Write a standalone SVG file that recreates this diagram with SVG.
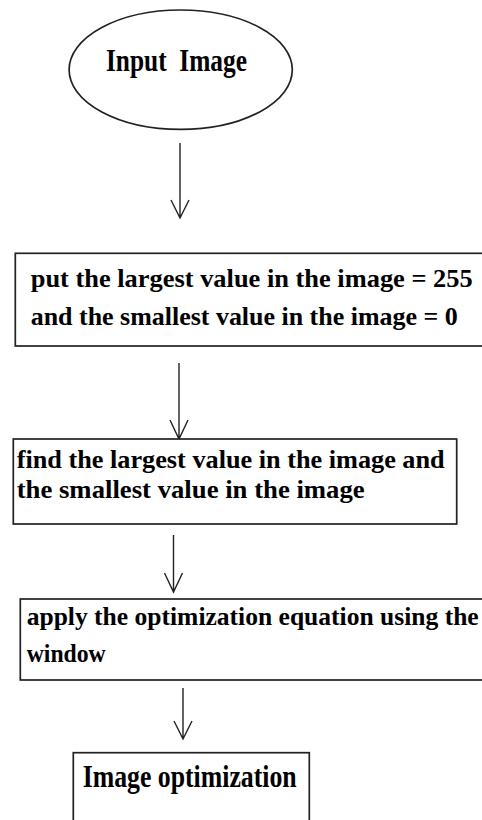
<svg xmlns="http://www.w3.org/2000/svg" width="482" height="820" viewBox="0 0 482 820">
<style>
.shape{fill:#fff;stroke:#222;stroke-width:1.7}
.t{font-family:"Liberation Serif","Times New Roman",serif;font-weight:bold;fill:#000;font-size:26px}
.tall{font-size:31px}
.conn{fill:none;stroke:#222;stroke-width:1.4}
</style>
<rect width="482" height="820" fill="#fff"/>
<g id="connectors">
<path class="conn" d="M180,143 V218 M171,200 L180,218 L189,200"/>
<path class="conn" d="M179,363 V439 M170,420 L179,439 L188,420"/>
<path class="conn" d="M173.5,535 V592 M164.5,573 L173.5,592 L182.5,573"/>
<path class="conn" d="M183,688 V739 M174,721 L183,739 L192,721"/>
</g>
<g id="input-image">
<ellipse class="shape" cx="180.7" cy="69.7" rx="111.6" ry="59.7"/>
<text class="t tall" x="106" y="71" textLength="141" lengthAdjust="spacingAndGlyphs" xml:space="preserve">Input  Image</text>
</g>
<g id="put-values">
<rect class="shape" x="15.3" y="253.3" width="480" height="92.7"/>
<text class="t" x="30.7" y="286.7" textLength="442" lengthAdjust="spacingAndGlyphs">put the largest value in the image = 255</text>
<text class="t" x="30.7" y="325" textLength="427" lengthAdjust="spacingAndGlyphs">and the smallest value in the image = 0</text>
</g>
<g id="find-values">
<rect class="shape" x="13.3" y="439" width="443.4" height="85"/>
<text class="t" x="16.7" y="468" textLength="428" lengthAdjust="spacingAndGlyphs">find the largest value in the image and</text>
<text class="t" x="16.7" y="498.3" textLength="348" lengthAdjust="spacingAndGlyphs">the smallest value in the image</text>
</g>
<g id="apply-equation">
<rect class="shape" x="20.3" y="599" width="480" height="81"/>
<text class="t" x="26.7" y="625" textLength="452" lengthAdjust="spacingAndGlyphs">apply the optimization equation using the</text>
<text class="t" x="26.7" y="661.7" textLength="79" lengthAdjust="spacingAndGlyphs">window</text>
</g>
<g id="image-optimization">
<rect class="shape" x="73.3" y="752.7" width="236" height="90"/>
<text class="t tall" x="82.7" y="786.7" textLength="214" lengthAdjust="spacingAndGlyphs">Image optimization</text>
</g>
</svg>
